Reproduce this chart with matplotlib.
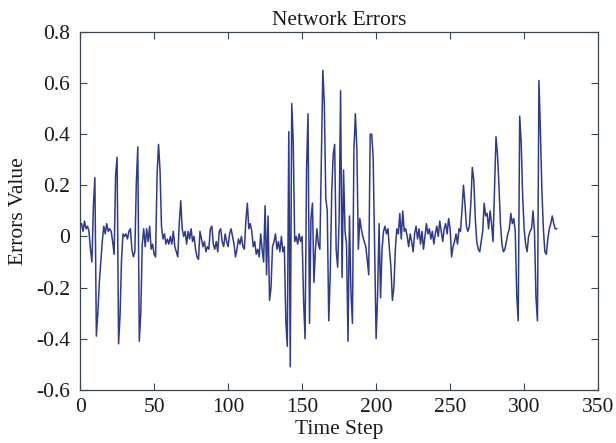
import matplotlib
matplotlib.use("Agg")
import matplotlib.pyplot as plt
import numpy as np

errors = [
    0.05, 0.02, 0.06, 0.03, 0.04, 0.02, -0.05, -0.10, 0.12, 0.23,
    -0.39, -0.30, -0.18, -0.10, -0.02, 0.04, 0.01, 0.05, 0.02, 0.03,
    0.02, -0.02, -0.07, 0.24, 0.31, -0.42, -0.31, -0.09, 0.01, 0.00,
    0.01, -0.01, 0.02, 0.03, -0.05, -0.08, -0.06, 0.21, 0.35, -0.41,
    -0.30, -0.03, 0.03, -0.04, 0.03, -0.02, 0.04, -0.05, -0.03, -0.07,
    -0.08, 0.24, 0.36, 0.26, 0.04, -0.01, 0.01, -0.03, -0.01, -0.03,
    0.00, -0.03, 0.02, -0.04, -0.06, -0.08, 0.05, 0.14, 0.03, 0.00,
    0.02, -0.03, 0.02, -0.01, 0.03, -0.02, 0.00, -0.05, -0.08, -0.09,
    0.02, -0.01, -0.04, -0.02, -0.06, -0.04, -0.05, 0.03, 0.04, -0.03,
    -0.05, -0.02, -0.06, 0.02, 0.03, -0.02, -0.04, 0.01, -0.02, -0.04,
    0.01, 0.03, 0.00, -0.03, -0.08, -0.05, -0.01, -0.03, 0.00, -0.04,
    -0.05, 0.06, 0.13, 0.03, 0.05, 0.02, -0.04, -0.02, -0.07, -0.05,
    -0.08, 0.01, -0.05, -0.10, 0.12, -0.15, 0.08, -0.25, -0.20, -0.04,
    -0.02, 0.01, -0.05, -0.02, -0.06, 0.00, -0.06, -0.04, -0.33, -0.43,
    0.41, -0.51, 0.52, 0.37, -0.02, 0.00, -0.03, 0.01, -0.02, 0.00,
    -0.25, -0.40, 0.26, 0.48, -0.34, 0.07, 0.13, -0.18, -0.05, 0.03,
    -0.03, -0.05, 0.30, 0.65, 0.52, 0.15, 0.10, -0.33, -0.15, 0.17,
    0.32, 0.36, -0.05, -0.12, 0.06, 0.57, -0.16, 0.26, 0.02, -0.03,
    -0.41, 0.08, -0.22, -0.34, 0.34, 0.48, 0.34, -0.05, 0.07, 0.03,
    0.00, -0.02, -0.04, -0.09, -0.15, 0.40, 0.40, 0.31, -0.05, -0.40,
    -0.23, 0.05, -0.24, -0.05, 0.02, 0.04, 0.01, 0.03, -0.05, -0.12,
    -0.25, -0.20, -0.05, 0.03, 0.01, 0.09, -0.01, 0.10, 0.02, 0.03,
    0.00, -0.04, 0.01, -0.02, -0.06, 0.01, 0.04, -0.01, 0.03, -0.03,
    0.02, -0.05, 0.00, 0.05, 0.01, 0.03, -0.01, 0.02, -0.03, 0.01,
    0.04, 0.00, 0.06, 0.02, -0.02, 0.03, 0.05, 0.01, 0.07, 0.03,
    -0.08, -0.04, -0.02, 0.01, -0.03, 0.03, 0.02, 0.10, 0.20, 0.13,
    0.04, 0.02, 0.04, 0.13, 0.27, 0.22, 0.07, -0.02, -0.05, -0.06,
    -0.02, 0.02, 0.13, 0.08, 0.09, 0.03, 0.10, 0.05, -0.02, 0.18,
    0.39, 0.32, 0.20, 0.05, -0.03, -0.06, -0.05, -0.02, 0.01, 0.03,
    0.09, 0.05, 0.07, 0.02, -0.23, -0.33, 0.47, 0.37, 0.16, 0.03,
    -0.03, -0.06, 0.00, 0.02, 0.03, 0.10, 0.02, -0.24, -0.33, 0.61,
    0.41, 0.18, 0.03, -0.06, -0.07, -0.01, 0.03, 0.05, 0.08, 0.05,
    0.03, 0.03,
]
time_steps = np.arange(1, len(errors) + 1)

x_ticks = [0, 50, 100, 150, 200, 250, 300, 350]
y_ticks = [-0.6, -0.4, -0.2, 0, 0.2, 0.4, 0.6, 0.8]
y_tick_labels = ["-0.6", "-0.4", "-0.2", "0", "0.2", "0.4", "0.6", "0.8"]

plt.rcParams['font.family'] = ['Liberation Serif', 'DejaVu Serif']

fig = plt.figure(figsize=(6.16, 4.43), dpi=100)
ax = fig.add_axes([0.130, 0.120, 0.841, 0.808])
ax.plot(time_steps, errors, color='#2E3A8C', linewidth=1.1)

ax.set_xlim(0, 350)
ax.set_ylim(-0.6, 0.8)
ax.set_xticks(x_ticks)
ax.set_yticks(y_ticks)
ax.set_yticklabels(y_tick_labels)
ax.tick_params(direction='in', length=5, width=0.8, top=True, right=True,
               labelsize=15.5, labelcolor='#1a1a1a', color='#3a4550', pad=7)
ax.tick_params(axis='x', pad=6)
for side in ax.spines.values():
    side.set_color('#3a4550')
    side.set_linewidth(0.9)

ax.set_title('Network Errors', fontsize=15.5, pad=5, color='#1a1a1a')
ax.set_xlabel('Time Step', fontsize=15.5, labelpad=2, color='#1a1a1a')
ax.set_ylabel('Errors Value', fontsize=15.5, labelpad=6, color='#1a1a1a')

fig.savefig('out.png', dpi=100)
